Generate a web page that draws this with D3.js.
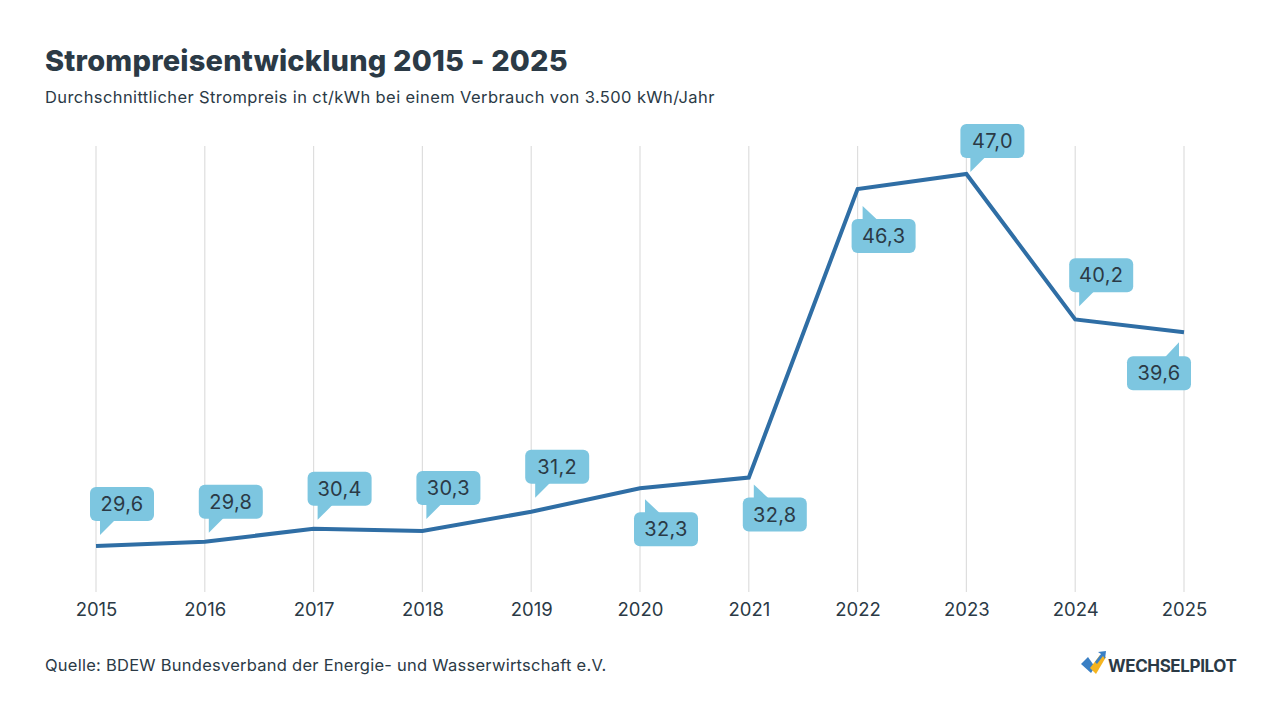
<!DOCTYPE html>
<html><head><meta charset="utf-8">
<script src="https://cdn.jsdelivr.net/npm/d3@7/dist/d3.min.js"></script>
<style>
html,body{margin:0;padding:0;background:#fff;}
svg{display:block;font-family:Inter,"Open Sans",sans-serif;}
</style></head>
<body>
<svg id="c" width="1280" height="720"></svg>
<script>
const years = [2015,2016,2017,2018,2019,2020,2021,2022,2023,2024,2025];
const prices = [29.6,29.8,30.4,30.3,31.2,32.3,32.8,46.3,47.0,40.2,39.6];
const labelPlacement = ["above","above","above","above","above","below","below","below","above","above","belowLeft"];
const labelGap = [25,23,23,26,28,24,20,30,16,27,24];

const title = "Strompreisentwicklung 2015 - 2025";
const subtitle = "Durchschnittlicher Strompreis in ct/kWh bei einem Verbrauch von 3.500 kWh/Jahr";
const source = "Quelle: BDEW Bundesverband der Energie- und Wasserwirtschaft e.V.";
const brand = "WECHSELPILOT";

const svg = d3.select("#c");
const textCol = "#2b3a46";
const lineCol = "#2f6ea5";
const boxCol = "#7dc6e0";

const x = d3.scalePoint().domain(years).range([96,1184]);
const y = d3.scaleLinear().domain([27.54,48.31]).range([590,146]);

// title
svg.append("text").attr("x",45).attr("y",71).attr("fill",textCol)
  .attr("font-size",29).attr("font-weight",800).attr("letter-spacing",0.2).text(title);
svg.append("text").attr("x",45).attr("y",103).attr("fill",textCol)
  .attr("font-size",16.5).attr("font-weight",400).attr("letter-spacing",0.4).text(subtitle);

// grid
svg.append("g").selectAll("line").data(years).join("line")
  .attr("x1",d=>x(d)).attr("x2",d=>x(d)).attr("y1",146).attr("y2",592)
  .attr("stroke","#dedede").attr("stroke-width",1.2);

// x axis labels
const xAxis = d3.axisBottom(x).tickSize(0).tickPadding(0);
const ax = svg.append("g").attr("transform","translate(0,600)").call(xAxis);
ax.select(".domain").remove();
ax.selectAll("text").attr("fill",textCol).attr("font-size",18.5).attr("font-family","Inter,sans-serif")
  .attr("dy","0.85em");

// line
const line = d3.line().x((d,i)=>x(years[i])).y(d=>y(d));
svg.append("path").datum(prices).attr("d",line).attr("fill","none")
  .attr("stroke",lineCol).attr("stroke-width",4).attr("stroke-linejoin","miter");

// callouts
const bw = 64, bh = 34;
const fmt = v => d3.format(".1f")(v).replace(".",",");
const g = svg.append("g");
prices.forEach((v,i)=>{
  const px = x(years[i]), py = y(v);
  const pl = labelPlacement[i], gap = labelGap[i];
  let left, top, tail;
  if(pl==="above"){
    left = px-6; top = py-gap-bh;
    const b = top+bh;
    tail = [[left+10,b-2],[left+26,b-2],[left+10,b+14]];
  } else if(pl==="below"){
    left = px-6; top = py+gap;
    tail = [[left+11,top+2],[left+27,top+2],[left+11,top-13]];
  } else {
    left = px-57; top = py+gap;
    tail = [[left+52,top+2],[left+37,top+2],[left+52,top-14]];
  }
  g.append("path").attr("d","M"+tail.map(p=>p.join(",")).join("L")+"Z").attr("fill",boxCol);
  g.append("rect").attr("x",left).attr("y",top).attr("width",bw).attr("height",bh)
    .attr("rx",6).attr("fill",boxCol);
  g.append("text").attr("x",left+bw/2).attr("y",top+bh/2+7).attr("text-anchor","middle")
    .attr("fill",textCol).attr("font-size",20).attr("letter-spacing",0.3).text(fmt(v));
});

// source
svg.append("text").attr("x",45).attr("y",671).attr("fill",textCol)
  .attr("font-size",16.5).attr("letter-spacing",0.25).text(source);

// logo
const lg = svg.append("g");
lg.append("path").attr("d","M1081,664 L1088,657 L1095,667 L1091,673 Z").attr("fill","#3a7fc4");
lg.append("path").attr("d","M1090,668 L1096,674 L1106,657 L1100,655 Z").attr("fill","#f5b41f");
lg.append("path").attr("d","M1095,662 L1101,654 L1098,652 L1106,651 L1105,659 L1103,656 L1097,664 Z").attr("fill","#3a7fc4");
svg.append("text").attr("x",1108).attr("y",672).attr("fill",textCol)
  .attr("font-size",17).attr("font-weight",700).attr("letter-spacing",-0.4).text(brand);
</script>
</body></html>
